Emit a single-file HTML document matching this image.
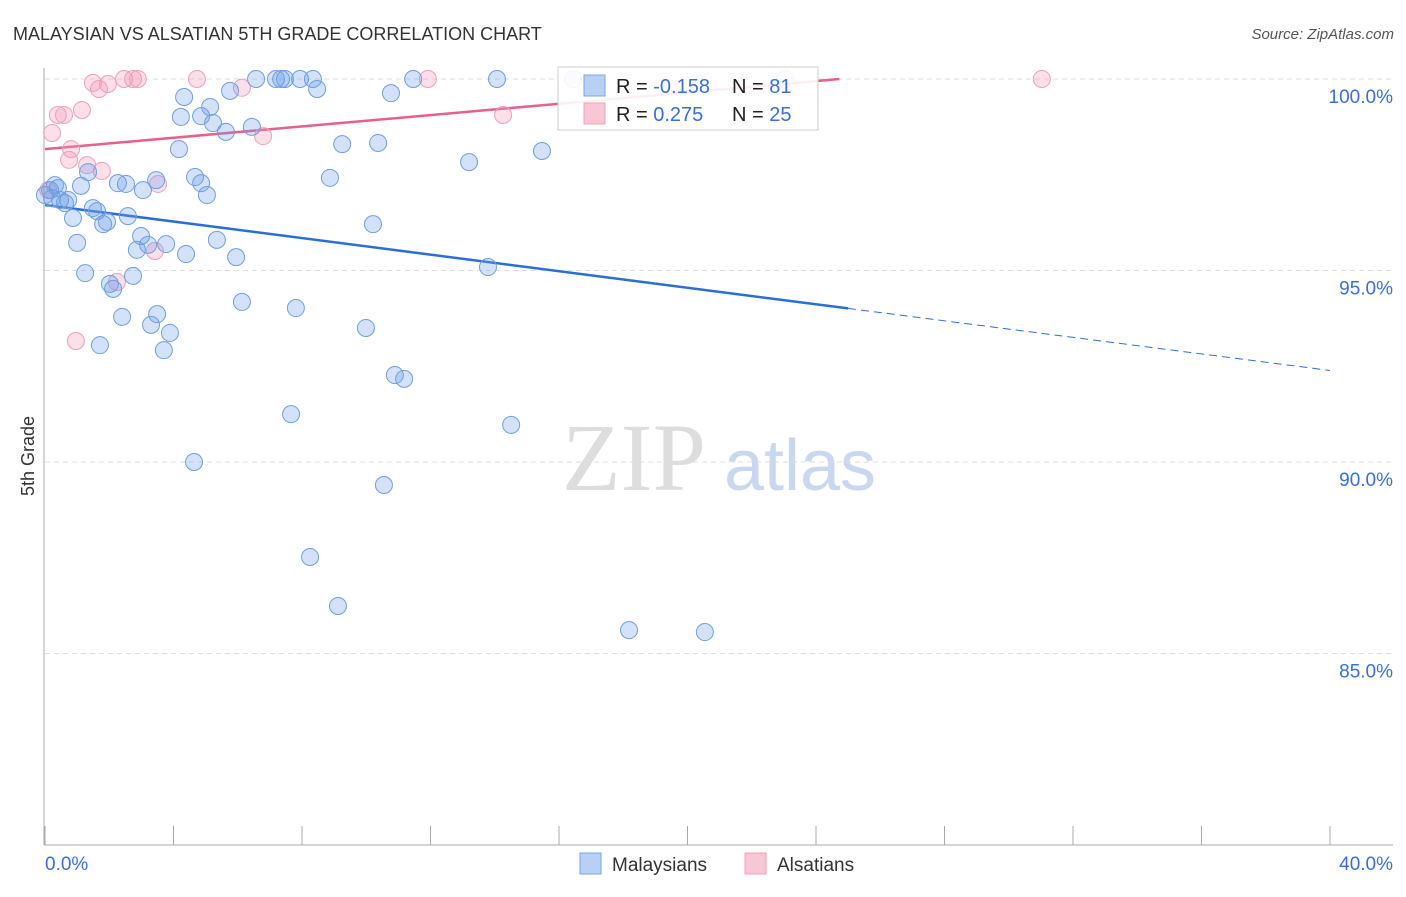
<!DOCTYPE html>
<html><head><meta charset="utf-8"><style>
body{margin:0;background:#fff;font-family:"Liberation Sans",sans-serif;}
</style></head><body>
<svg width="1406" height="892" xmlns="http://www.w3.org/2000/svg" font-family="Liberation Sans, sans-serif">
<text x="13" y="40" font-size="18" fill="#333">MALAYSIAN VS ALSATIAN 5TH GRADE CORRELATION CHART</text>
<text x="1394" y="39" font-size="15" fill="#555" text-anchor="end" font-style="italic">Source: ZipAtlas.com</text>
<text x="34" y="456" font-size="18" fill="#333" transform="rotate(-90 34 456)" text-anchor="middle">5th Grade</text>
<g><text x="634" y="490" font-size="96" font-family="Liberation Serif, serif" fill="#ddd" text-anchor="middle">ZIP</text><text x="800" y="490" font-size="72" fill="#c9d8f0" text-anchor="middle">atlas</text></g>
<g id="grid"></g><g id="axes"></g><g id="trend"></g><g id="pts"></g>
<g>
<rect x="558" y="67" width="260" height="63" fill="#fff" stroke="#ccc" fill-opacity="0.9"/>
<rect x="584" y="75" width="21" height="21" fill="#b8d0f4" stroke="#7aa5e6"/>
<rect x="584" y="103" width="21" height="21" fill="#f9c6d5" stroke="#f0a0b8"/>
<text x="616" y="93" font-size="20" fill="#222">R = <tspan fill="#3a6fd8">-0.158</tspan></text>
<text x="732" y="93" font-size="20" fill="#222">N = <tspan fill="#3a6fd8"> 81</tspan></text>
<text x="616" y="121" font-size="20" fill="#222">R = <tspan fill="#3a6fd8"> 0.275</tspan></text>
<text x="732" y="121" font-size="20" fill="#222">N = <tspan fill="#3a6fd8">25</tspan></text>
</g>
<g>
<rect x="580" y="853" width="21" height="21" fill="#b8d0f4" stroke="#7aa5e6"/>
<text x="612" y="871" font-size="19" fill="#333">Malaysians</text>
<rect x="745" y="853" width="21" height="21" fill="#f9c6d5" stroke="#f0a0b8"/>
<text x="777" y="871" font-size="19" fill="#333">Alsatians</text>
</g>
</svg>
<script>
const blueX=[0,0.16,0.31,0.40,0.22,0.47,0.62,0.72,0.87,1.00,1.25,1.12,1.34,1.49,1.62,1.71,1.81,1.93,2.02,2.12,2.27,2.40,2.52,2.58,2.74,2.86,2.99,3.05,3.21,3.30,3.46,3.49,3.70,3.77,3.89,4.17,4.23,4.33,4.39,4.64,4.67,4.86,4.86,5.04,5.14,5.23,5.35,5.63,5.76,5.95,6.13,6.44,6.57,7.19,7.35,7.47,7.66,7.81,7.94,8.25,8.34,8.47,8.87,9.12,9.25,9.99,10.21,10.37,10.55,10.77,10.89,11.18,11.46,13.20,13.79,14.07,14.51,15.47,16.44,18.18,20.54,23.04];
const blueY=[96.97,97.10,97.23,97.15,96.89,96.84,96.76,96.84,96.37,95.72,94.93,97.21,97.57,96.63,96.55,93.05,96.21,96.27,94.65,94.52,97.28,93.79,97.26,96.42,94.86,95.54,95.90,97.10,95.67,93.58,97.36,93.86,92.92,95.69,93.37,98.17,99.01,99.53,95.43,90.0,97.44,97.28,99.03,96.97,99.27,98.85,95.80,98.62,99.69,95.35,94.18,98.75,100,100,100,100,91.25,94.02,100,87.52,100,99.74,97.42,86.24,98.30,93.50,96.21,98.33,89.40,99.63,92.27,92.17,100,97.83,95.09,100,90.97,98.12,100,85.61,85.56,100];
const pinkX=[0.1,0.22,0.40,0.59,0.75,0.81,0.96,1.15,1.31,1.49,1.68,1.77,1.96,2.24,2.46,2.74,2.89,3.42,3.52,4.73,6.13,6.79,11.92,14.26,31.03];
const pinkY=[97.1,98.59,99.06,99.06,97.89,98.17,93.16,99.19,97.75,99.90,99.74,97.60,99.87,94.70,100,100,100,95.51,97.26,100,99.77,98.51,100,99.06,100];
const yTicks=[100,95,90,85];
const yTickLabels=["100.0%","95.0%","90.0%","85.0%"];
const xTicks=[0,4,8,12,16,20,24,28,32,36,40];
const blueTrend=[96.71,-0.108], pinkTrend=[98.17,0.074];
const NS='http://www.w3.org/2000/svg';
const X=v=>45+v*32.125, Y=v=>79+(100-v)*38.3;
function mk(tag,attrs,parent){const e=document.createElementNS(NS,tag);for(const k in attrs)e.setAttribute(k,attrs[k]);document.getElementById(parent).appendChild(e);return e;}
yTicks.forEach((t,i)=>{
 const l=mk('line',{x1:45,x2:1393,y1:Y(t),y2:Y(t),stroke:'#ddd','stroke-dasharray':'5,4'},'grid');
 
 
 const tx=mk('text',{x:1393,y:Y(t)+24,'font-size':19,fill:'#3a6fd8','text-anchor':'end'},'grid');
 tx.textContent=yTickLabels[i];
 
 
});
const ax=mk('line',{x1:44,x2:44,y1:68,y2:845,stroke:'#aaa'},'axes');


const bx=mk('line',{x1:44,x2:1393,y1:845,y2:845,stroke:'#aaa'},'axes');


xTicks.forEach(t=>{const l=mk('line',{x1:X(t),x2:X(t),y1:826,y2:845,stroke:'#aaa'},'axes');
 
 });
[[0,'start','0.0%'],[40,'end','40.0%']].forEach(a=>{const t=mk('text',{x:X(a[0])+(a[0]?63:0),y:870,'font-size':19,fill:'#3a6fd8','text-anchor':a[1]},'axes');t.textContent=a[2];
 
 });
function pts(xs,ys,fill,stroke,name){xs.forEach((x,i)=>{const c=mk('circle',{cx:X(x),cy:Y(ys[i]),r:8.5,fill:fill,stroke:stroke,'stroke-width':1},'pts');
 
 });}
pts(pinkX,pinkY,'rgba(244,150,182,0.3)','#f0a0b8','alsatian-point');
pts(blueX,blueY,'rgba(110,160,232,0.3)','#6f9fe0','malaysian-point');
const b1=mk('line',{x1:X(0),y1:Y(blueTrend[0]),x2:X(25),y2:Y(blueTrend[0]+25*blueTrend[1]),stroke:'#2a6fd8','stroke-width':2.5},'trend');


const b2=mk('line',{x1:X(25),y1:Y(blueTrend[0]+25*blueTrend[1]),x2:X(40),y2:Y(blueTrend[0]+40*blueTrend[1]),stroke:'#2a6fd8','stroke-width':1,'stroke-dasharray':'8,5'},'trend');


const pe=(100-pinkTrend[0])/pinkTrend[1];
const p1=mk('line',{x1:X(0),y1:Y(pinkTrend[0]),x2:X(pe),y2:Y(100),stroke:'#e8608a','stroke-width':2.5},'trend');


</script>
</body></html>
